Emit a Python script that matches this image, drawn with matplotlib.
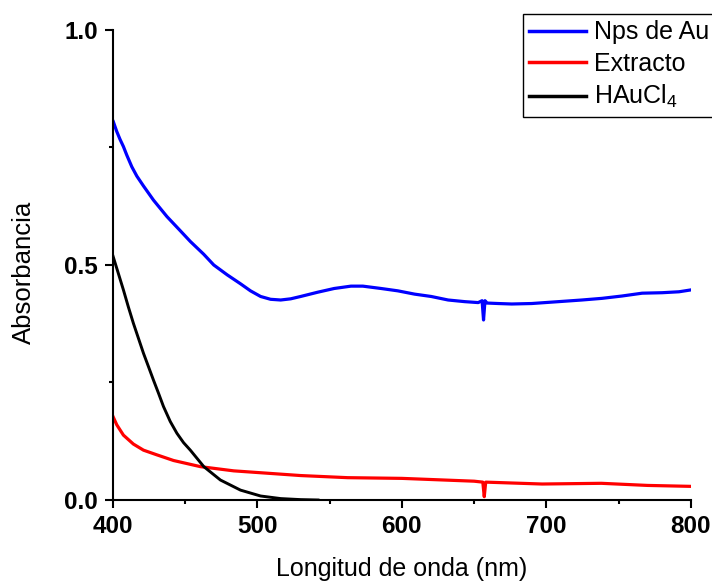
import numpy as np
import matplotlib
matplotlib.use('Agg')
import matplotlib.pyplot as plt

plt.rcParams['font.family'] = ['Liberation Sans', 'DejaVu Sans']
plt.rcParams['mathtext.default'] = 'regular'

# UV-Vis spectra (wavelength in nm, absorbance)
wl_au = [400.4, 402.8, 405.1, 407.4, 409.7, 413.2, 416.7, 421.3, 428.2, 437.5, 446.7,
         453.7, 462.9, 469.9, 479.2, 488.4, 495.3, 502.3, 509.2, 516.2, 523.1, 530,
         541.7, 553.2, 564.8, 573, 585.6, 597.2, 608.8, 620.3, 632, 643.5, 652.8,
         655.5, 656.5, 657.5, 659, 666.7, 676, 689.8, 701.4, 713, 724.5, 738.4,
         752.3, 766.2, 780, 791.7, 800]
abs_au = [0.805, 0.784, 0.767, 0.752, 0.734, 0.709, 0.689, 0.668, 0.638, 0.603, 0.573,
          0.550, 0.523, 0.500, 0.479, 0.460, 0.445, 0.433, 0.427, 0.4255, 0.428, 0.433,
          0.442, 0.450, 0.455, 0.455, 0.450, 0.445, 0.438, 0.433, 0.4255, 0.422, 0.420,
          0.424, 0.383, 0.424, 0.419, 0.418, 0.417, 0.418, 0.4205, 0.423, 0.4255, 0.429,
          0.434, 0.440, 0.441, 0.443, 0.447]

wl_ext = [400, 402.8, 407.4, 414.3, 421.3, 430.6, 442.1, 460.6, 483.7, 506.9, 530,
          562.5, 600, 650, 656, 657, 658, 697, 738, 770, 800]
abs_ext = [0.179, 0.160, 0.138, 0.119, 0.106, 0.096, 0.084, 0.071, 0.062, 0.057, 0.052,
           0.0475, 0.046, 0.040, 0.038, 0.007, 0.038, 0.034, 0.0355, 0.031, 0.029]

wl_hau = [400, 403.9, 407.4, 410.8, 414.3, 417.8, 421.3, 424.7, 428.2, 431.7, 435.1,
          439.8, 444.4, 449, 453.7, 463, 474.5, 488.4, 502.3, 516.2, 530, 542]
abs_hau = [0.521, 0.482, 0.447, 0.411, 0.376, 0.344, 0.312, 0.284, 0.255, 0.227, 0.199,
           0.167, 0.142, 0.122, 0.106, 0.071, 0.0425, 0.021, 0.0085, 0.003, 0.0008, 0.0]

fig = plt.figure(figsize=(7.12, 5.82), dpi=100)
ax = fig.add_axes([0.1583, 0.1409, 0.8122, 0.8076])

ax.plot(wl_au, abs_au, color='#0000ff', lw=2.3, label='Nps de Au')
ax.plot(wl_ext, abs_ext, color='#ff0000', lw=2.3, label='Extracto')
ax.plot(wl_hau, abs_hau, color='black', lw=2.1, label='HAuCl$_4$')

ax.set_xlim(400, 800)
ax.set_ylim(0, 1.0)
ax.set_xticks([400, 500, 600, 700, 800])
ax.set_xticks([450, 550, 650, 750], minor=True)
ax.set_yticks([0.0, 0.5, 1.0])
ax.set_yticks([0.25, 0.75], minor=True)
ax.set_yticklabels(['0.0', '0.5', '1.0'])

for side in ['top', 'right']:
    ax.spines[side].set_visible(False)
for side in ['left', 'bottom']:
    ax.spines[side].set_linewidth(1.5)

ax.tick_params(which='major', direction='out', length=5.5, width=1.5, pad=5)
ax.tick_params(which='minor', direction='out', length=3, width=1.5)
for lab in ax.get_xticklabels() + ax.get_yticklabels():
    lab.set_fontsize(17.5)
    lab.set_fontweight('bold')

ax.set_xlabel('Longitud de onda (nm)', fontsize=18, labelpad=14)
ax.set_ylabel('Absorbancia', fontsize=18.5)
ax.yaxis.set_label_coords(-0.133, 0.485)

leg = fig.legend(loc='upper left', bbox_to_anchor=(522.7 / 712, 1 - 14 / 582),
                 fontsize=18, frameon=True, fancybox=False, framealpha=1,
                 handlelength=2.28, handletextpad=0.32, borderpad=0.25,
                 labelspacing=0.3, borderaxespad=0)
leg.get_frame().set_edgecolor('black')
leg.get_frame().set_linewidth(1.0)
for line in leg.get_lines():
    line.set_linewidth(2.5)

plt.savefig('out.png', dpi=100)
